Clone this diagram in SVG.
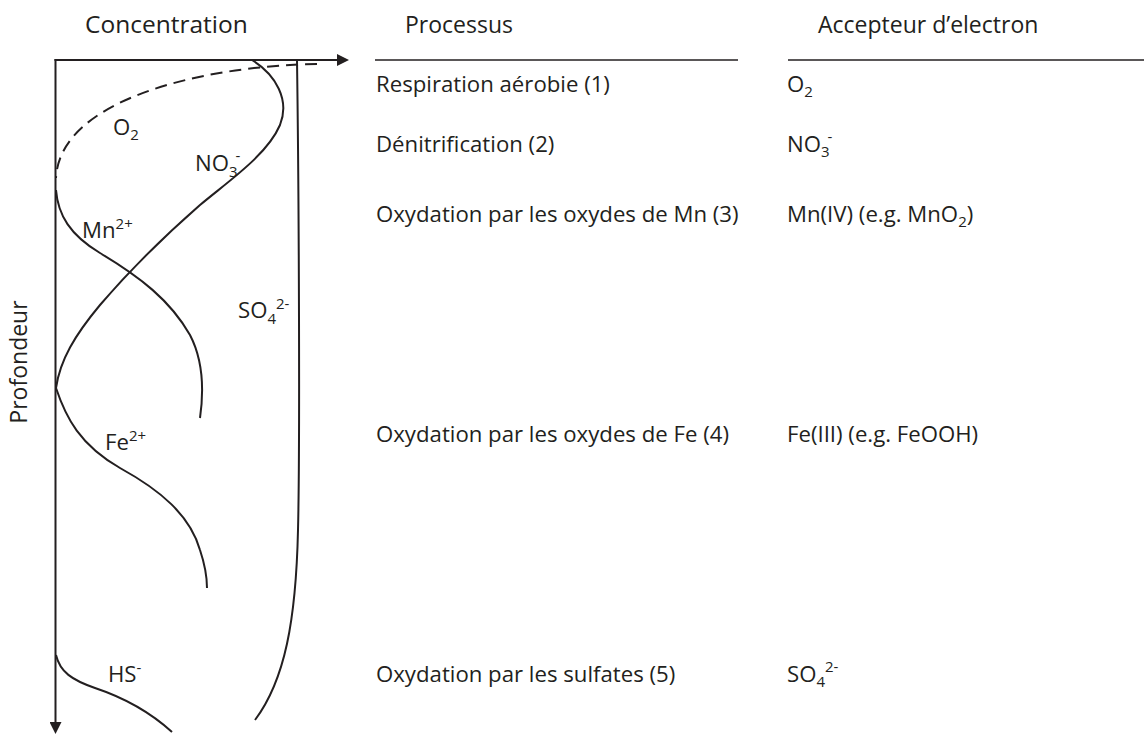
<svg xmlns="http://www.w3.org/2000/svg" width="1144" height="735" viewBox="0 0 1144 735">
  <style>
    text { font-family: "Open Sans", "Noto Sans", "Liberation Sans", sans-serif; font-size: 22.2px; fill: #231f20; }
    .h { font-size: 23px; }
    .s { font-size: 15px; }
    .ax { stroke: #231f20; stroke-width: 2; fill: none; }
    .cv { stroke: #231f20; stroke-width: 2; fill: none; }
    .dash { stroke-dasharray: 12 7; }
    .rule { stroke: #231f20; stroke-width: 1.6; }
  </style>
  <defs>
    <marker id="arr" markerUnits="userSpaceOnUse" markerWidth="12" markerHeight="12" refX="0" refY="6" orient="auto">
      <path d="M0,0 L12,6 L0,12 z" fill="#231f20"/>
    </marker>
  </defs>
  <rect width="1144" height="735" fill="#ffffff"/>

  <g id="axes">
    <line class="ax" x1="54.5" y1="60" x2="337" y2="60" marker-end="url(#arr)"/>
    <line class="ax" x1="55.5" y1="59" x2="55.5" y2="722" marker-end="url(#arr)"/>
    <text class="h" x="85" y="33" style="font-size:24.5px">Concentration</text>
    <text class="h" transform="translate(27,362) rotate(-90)" text-anchor="middle">Profondeur</text>
  </g>

  <g id="curves">
    <path id="o2" class="cv dash" d="M317,64 C200,66 60,100 56,178"/>
    <path id="mn" class="cv" d="M56,190 C58,215 70,235 100,253 C140,277 170,300 190,335 C203,360 204,390 200,418"/>
    <path id="no3" class="cv" d="M252,60 C276,75 290,100 280,125 C267,155 230,180 200,205 C160,240 130,270 100,305 C75,335 60,360 56,388"/>
    <path id="fe" class="cv" d="M56,388 C66,418 80,445 120,468 C160,490 190,515 200,550 C205,565 207,575 207,588"/>
    <path id="hs" class="cv" d="M56,655 C60,672 72,680 95,688 C125,698 150,712 172,732"/>
    <path id="so4" class="cv" d="M297,60 C299,200 300,450 298,530 C296,620 285,680 255,720"/>
  </g>

  <g id="curve-labels">
    <text x="113" y="135">O<tspan class="s" dy="5">2</tspan></text>
    <text x="195" y="171">NO<tspan class="s" dy="6">3</tspan><tspan class="s" dx="-2" dy="-16">-</tspan></text>
    <text x="82" y="238">Mn<tspan class="s" dy="-9">2+</tspan></text>
    <text x="238" y="318">SO<tspan class="s" dy="6">4</tspan><tspan class="s" dy="-15">2-</tspan></text>
    <text x="105" y="450">Fe<tspan class="s" dy="-9">2+</tspan></text>
    <text x="108" y="682">HS<tspan class="s" dy="-9">-</tspan></text>
  </g>

  <g id="processus">
    <text class="h" x="405" y="33">Processus</text>
    <line class="rule" x1="375" y1="60" x2="738" y2="60"/>
    <text x="376" y="92">Respiration aérobie (1)</text>
    <text x="376" y="152">Dénitrification (2)</text>
    <text x="376" y="222">Oxydation par les oxydes de Mn (3)</text>
    <text x="376" y="442">Oxydation par les oxydes de Fe (4)</text>
    <text x="376" y="682">Oxydation par les sulfates (5)</text>
  </g>

  <g id="accepteur">
    <text class="h" x="818" y="33">Accepteur d’electron</text>
    <line class="rule" x1="788" y1="60" x2="1144" y2="60"/>
    <text x="787" y="92">O<tspan class="s" dy="5">2</tspan></text>
    <text x="787" y="152">NO<tspan class="s" dy="5">3</tspan><tspan class="s" dx="-2" dy="-15">-</tspan></text>
    <text x="787" y="222">Mn(IV) (e.g. MnO<tspan class="s" dy="5">2</tspan><tspan dy="-5">)</tspan></text>
    <text x="787" y="442">Fe(III) (e.g. FeOOH)</text>
    <text x="787" y="682">SO<tspan class="s" dy="5">4</tspan><tspan class="s" dy="-15">2-</tspan></text>
  </g>
</svg>
